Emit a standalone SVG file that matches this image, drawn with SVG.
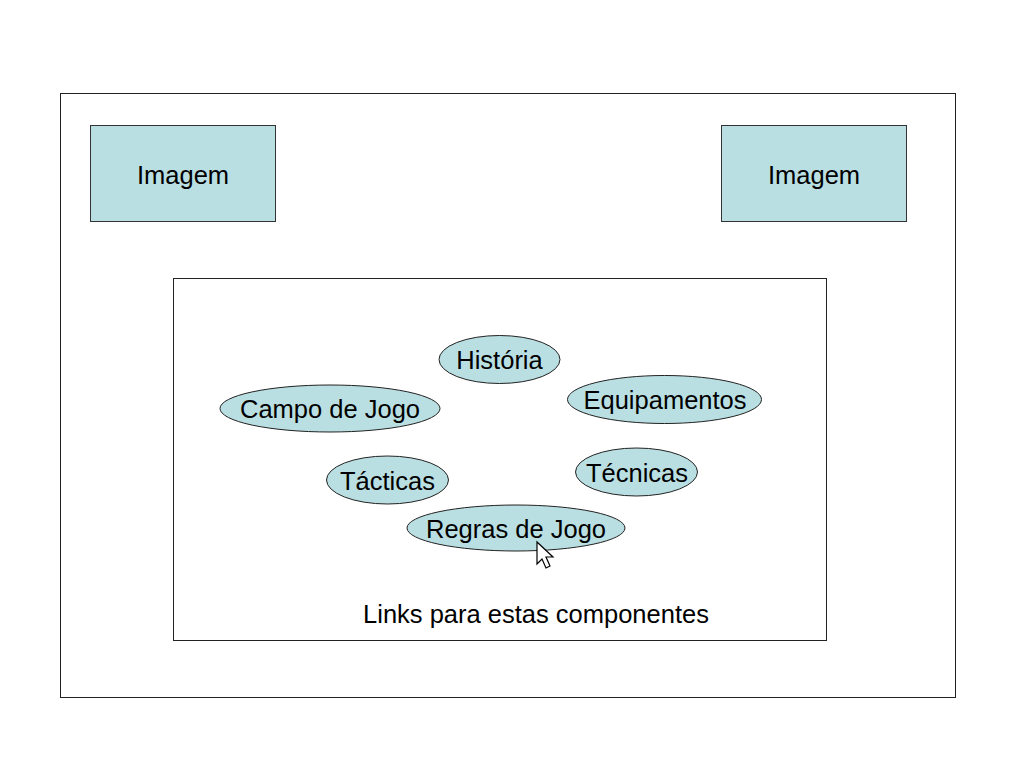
<svg xmlns="http://www.w3.org/2000/svg" width="1024" height="768" viewBox="0 0 1024 768">
<style>
.frame{fill:#ffffff;stroke:#222222;stroke-width:1}
.box{fill:#badfe3;stroke:#333333;stroke-width:1}
.oval{fill:#badfe3;stroke:#222222;stroke-width:1}
text{font-family:"Liberation Sans",Arial,sans-serif;font-size:25.5px;fill:#000000;text-anchor:middle}
.cursor{fill:#ffffff;stroke:#000000;stroke-width:1.2;stroke-linejoin:miter}
</style>
<rect width="1024" height="768" fill="#ffffff"/>
<g id="outer-frame"><rect class="frame" x="60.5" y="93.5" width="895" height="604"/></g>
<g id="image-left"><rect class="box" x="90.5" y="125.5" width="185" height="96"/><text x="183" y="184">Imagem</text></g>
<g id="image-right"><rect class="box" x="721.5" y="125.5" width="185" height="96"/><text x="814" y="184">Imagem</text></g>
<g id="links-panel"><rect class="frame" x="173.5" y="278.5" width="653" height="362"/><text x="536" y="623">Links para estas componentes</text></g>
<g id="historia"><ellipse class="oval" cx="499.5" cy="359.5" rx="60.5" ry="24"/><text x="499.5" y="369">História</text></g>
<g id="campo-de-jogo"><ellipse class="oval" cx="330" cy="408.5" rx="110" ry="23.5"/><text x="330" y="418">Campo de Jogo</text></g>
<g id="equipamentos"><ellipse class="oval" cx="664.5" cy="399.5" rx="97" ry="24"/><text x="665" y="409">Equipamentos</text></g>
<g id="tecnicas"><ellipse class="oval" cx="636.5" cy="472" rx="61" ry="24"/><text x="637" y="482">Técnicas</text></g>
<g id="tacticas"><ellipse class="oval" cx="387.5" cy="480" rx="61" ry="24"/><text x="387.5" y="490">Tácticas</text></g>
<g id="regras-de-jogo"><ellipse class="oval" cx="516" cy="528" rx="109" ry="23"/><text x="516" y="538">Regras de Jogo</text></g>
<g id="connectors"></g>
<g id="mouse-cursor"><polygon class="cursor" points="537,542 537,564 542,559 546,568 550,566 546,557 553,557"/></g>
</svg>
